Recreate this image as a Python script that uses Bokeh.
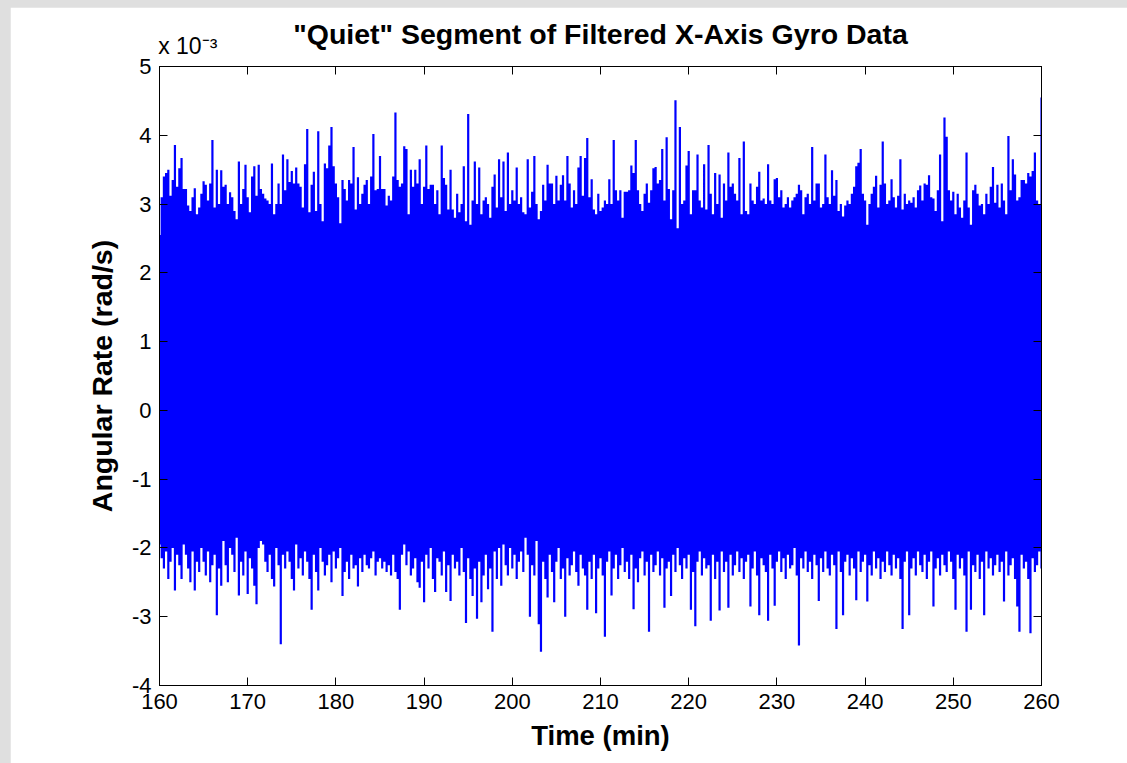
from bokeh.plotting import figure
from bokeh.models import LinearAxis, FixedTicker, Range1d, ColumnDataSource, CustomJSTickFormatter
from bokeh.layouts import column
from bokeh.embed import file_html
from bokeh.resources import INLINE

# ---------------- data (angular rate in units of 1e-3 rad/s) ----------------
T_START = 160.0
T_STEP = 0.25   # minutes between envelope samples

upper_env = [
    2.55, 3.10, 3.40, 3.45, 3.50, 3.12, 3.35, 3.86, 3.25, 3.52, 3.67, 3.22, 3.22, 2.98, 2.90, 3.10, 3.23, 2.85, 2.95, 3.15,
    3.33, 3.28, 3.05, 3.30, 3.93, 2.95, 3.50, 3.00, 3.49, 3.25, 3.28, 3.00, 3.17, 3.10, 2.90, 2.78, 3.62, 3.00, 3.22, 3.57,
    3.10, 2.88, 3.40, 3.55, 3.12, 3.57, 3.22, 3.15, 3.08, 3.05, 3.00, 3.59, 2.85, 3.00, 3.30, 3.00, 3.72, 3.20, 3.65, 3.32,
    3.48, 3.30, 3.53, 3.30, 3.25, 2.95, 3.58, 4.09, 2.88, 3.28, 3.47, 2.90, 4.06, 3.00, 2.75, 3.59, 3.52, 3.85, 4.12, 3.55,
    3.30, 3.10, 2.72, 3.35, 3.22, 3.05, 3.35, 3.30, 3.83, 2.92, 3.39, 3.00, 3.15, 3.28, 3.35, 3.00, 3.40, 4.02, 3.20, 3.22,
    3.70, 3.22, 3.22, 2.98, 3.12, 3.05, 3.40, 4.33, 3.35, 3.25, 3.30, 3.84, 3.80, 2.85, 3.50, 3.25, 3.50, 3.30, 3.65, 3.00,
    3.25, 3.85, 3.22, 3.28, 3.28, 3.00, 3.20, 2.85, 3.85, 3.38, 3.28, 2.92, 3.50, 2.92, 2.80, 3.15, 2.88, 3.00, 3.55, 2.75,
    4.31, 2.70, 3.05, 3.62, 3.00, 3.53, 2.85, 3.05, 3.10, 3.00, 2.80, 3.25, 3.43, 2.95, 3.65, 3.10, 3.62, 2.90, 3.75, 3.00,
    3.20, 3.05, 3.53, 3.00, 3.10, 2.88, 2.85, 3.65, 2.95, 3.18, 3.70, 3.00, 2.78, 2.90, 3.28, 3.05, 3.57, 3.30, 3.30, 3.00,
    3.41, 3.05, 3.28, 3.42, 3.05, 3.70, 3.30, 2.95, 3.20, 3.00, 3.53, 3.70, 3.12, 3.67, 3.96, 3.10, 3.36, 2.92, 2.85, 3.15,
    2.90, 2.95, 3.05, 3.00, 3.36, 3.00, 3.93, 3.20, 3.05, 3.20, 2.80, 3.18, 3.18, 3.20, 3.56, 3.45, 3.93, 3.20, 3.00, 2.90,
    3.15, 3.30, 3.02, 3.20, 3.52, 3.54, 3.30, 3.35, 3.80, 3.05, 3.97, 3.22, 2.78, 3.20, 4.51, 2.65, 4.12, 3.00, 3.05, 3.56,
    3.77, 2.85, 3.20, 3.20, 3.72, 3.05, 2.95, 3.58, 2.92, 3.86, 3.15, 2.85, 3.45, 3.00, 3.43, 2.80, 3.30, 3.05, 3.75, 3.25,
    3.30, 3.15, 3.05, 3.67, 2.85, 3.91, 2.90, 2.85, 3.30, 3.05, 3.00, 3.25, 3.47, 3.05, 3.08, 3.00, 3.58, 3.05, 3.00, 3.36,
    3.38, 3.10, 3.20, 2.95, 3.00, 3.10, 2.95, 3.05, 3.10, 3.15, 3.28, 3.20, 2.85, 3.10, 3.15, 3.00, 3.83, 3.05, 3.30, 3.30,
    2.95, 3.00, 3.72, 3.10, 3.00, 3.49, 3.12, 3.35, 2.90, 3.00, 2.82, 2.98, 3.05, 3.00, 3.15, 3.25, 3.55, 3.60, 3.80, 3.15,
    3.05, 2.70, 3.00, 3.15, 3.25, 3.41, 2.95, 3.28, 3.91, 3.30, 3.00, 3.05, 3.36, 3.10, 2.95, 3.12, 3.65, 2.92, 3.15, 3.00,
    3.05, 3.02, 3.10, 2.95, 3.20, 3.27, 3.05, 3.30, 3.28, 3.42, 3.10, 3.08, 2.90, 3.20, 3.72, 2.75, 4.26, 3.98, 3.20, 3.05,
    3.18, 2.85, 3.15, 2.95, 2.80, 3.05, 3.75, 2.95, 2.70, 3.20, 3.28, 3.15, 2.98, 3.00, 2.85, 3.15, 3.00, 3.25, 3.54, 3.02,
    3.28, 2.95, 3.30, 3.05, 2.85, 3.99, 3.20, 3.65, 3.43, 3.05, 3.10, 3.35, 3.35, 3.30, 3.45, 3.40, 3.48, 3.75, 3.05, 3.00,
    4.55,
]

lower_env = [
    -1.95, -2.15, -2.30, -2.05, -2.45, -2.20, -2.00, -2.62, -2.10, -2.25, -2.45, -1.95, -2.10, -2.30, -2.50, -2.05, -2.62, -2.20, -2.35, -2.00,
    -2.20, -2.40, -2.05, -2.50, -2.25, -2.10, -2.98, -2.30, -2.55, -1.90, -2.25, -2.50, -2.00, -2.10, -2.35, -1.85, -2.69, -2.20, -2.40, -2.05,
    -2.67, -2.15, -2.30, -2.55, -2.82, -2.00, -1.90, -1.95, -2.20, -2.35, -2.10, -2.45, -2.56, -2.00, -2.25, -3.40, -2.10, -2.30, -2.05, -2.20,
    -2.45, -2.62, -1.95, -2.30, -2.15, -2.40, -2.05, -2.20, -2.45, -2.90, -2.10, -2.35, -2.62, -2.00, -2.20, -2.40, -2.25, -2.10, -2.50, -2.05,
    -2.30, -2.15, -2.00, -2.70, -2.35, -2.20, -2.45, -2.10, -2.30, -2.25, -2.56, -2.15, -2.35, -2.10, -2.25, -2.30, -2.15, -2.05, -2.40, -2.20,
    -2.15, -2.30, -2.20, -2.35, -2.25, -2.40, -2.10, -2.35, -2.45, -2.90, -2.10, -1.95, -2.25, -2.05, -2.40, -2.30, -2.15, -2.50, -2.58, -2.20,
    -2.79, -2.10, -2.30, -2.00, -2.45, -2.64, -2.15, -2.20, -2.40, -2.05, -2.64, -2.25, -2.77, -2.10, -2.30, -2.20, -2.40, -2.00, -2.35, -3.09,
    -2.15, -2.45, -2.70, -2.30, -3.03, -2.20, -2.79, -2.40, -2.10, -2.60, -2.30, -3.22, -2.05, -2.45, -2.00, -2.55, -1.95, -2.25, -2.40, -2.00,
    -2.30, -2.10, -2.45, -2.20, -2.05, -2.35, -1.85, -2.10, -3.00, -2.25, -2.40, -1.90, -3.11, -3.51, -2.20, -2.45, -2.72, -2.10, -2.35, -2.79,
    -2.20, -2.00, -2.45, -2.30, -3.00, -2.15, -2.40, -2.25, -2.05, -2.35, -2.55, -2.10, -2.30, -2.40, -2.90, -2.20, -2.45, -2.10, -2.95, -2.30,
    -2.15, -2.40, -3.29, -2.20, -2.05, -2.69, -2.30, -2.10, -2.45, -2.25, -2.00, -2.35, -2.20, -2.45, -2.10, -2.89, -2.30, -2.50, -2.15, -2.05,
    -2.40, -2.20, -3.22, -2.10, -2.35, -2.25, -2.05, -2.40, -2.15, -2.87, -2.30, -2.20, -2.70, -2.10, -2.35, -2.00, -2.25, -2.45, -2.15, -2.30,
    -2.10, -2.90, -2.35, -3.14, -2.20, -2.05, -2.40, -2.15, -2.30, -2.25, -3.06, -2.10, -2.45, -2.20, -2.91, -2.05, -2.35, -2.20, -2.87, -2.10,
    -2.40, -2.25, -2.05, -2.35, -2.15, -2.45, -2.20, -2.10, -2.85, -2.30, -2.05, -2.40, -2.98, -2.15, -2.25, -2.35, -3.06, -2.10, -2.30, -2.84,
    -2.20, -2.05, -2.35, -2.15, -2.45, -2.10, -2.30, -2.25, -2.00, -2.40, -3.42, -2.15, -2.30, -2.05, -2.35, -2.20, -2.45, -2.10, -2.25, -2.77,
    -2.15, -2.35, -2.05, -2.30, -2.40, -2.10, -2.25, -3.18, -2.05, -2.35, -2.98, -2.20, -2.10, -2.40, -2.15, -2.30, -2.76, -2.05, -2.35, -2.20,
    -2.10, -2.78, -2.25, -2.40, -2.05, -2.30, -2.15, -2.45, -2.20, -2.35, -2.05, -2.25, -2.40, -2.10, -2.30, -2.15, -2.45, -3.18, -2.20, -2.05,
    -2.98, -2.30, -2.15, -2.40, -2.05, -2.25, -2.35, -2.10, -2.45, -2.20, -2.05, -2.85, -2.30, -2.15, -2.40, -2.10, -2.25, -2.35, -2.05, -2.20,
    -2.45, -2.90, -2.10, -2.30, -2.15, -2.40, -3.22, -2.05, -2.90, -2.25, -2.35, -2.10, -2.45, -2.20, -2.98, -2.05, -2.30, -2.15, -2.40, -2.25,
    -2.10, -2.35, -2.20, -2.78, -2.05, -2.40, -2.25, -2.15, -2.45, -2.85, -3.22, -2.10, -2.30, -2.20, -2.45, -3.24, -2.15, -2.35, -2.25, -2.05,
    -2.30,
]

x_ticks = [160, 170, 180, 190, 200, 210, 220, 230, 240, 250, 260]
y_ticks = [-4, -3, -2, -1, 0, 1, 2, 3, 4, 5]

title_text = '"Quiet" Segment of Filtered X-Axis Gyro Data'
x_label = "Time (min)"
y_label = "Angular Rate (rad/s)"
exp_text = "x 10\u207b\u00b3"      # axis multiplier  x 10^-3

# ---------------- figure ----------------
FONT = "Liberation Sans"
BLUE = "#0000ff"
EXP_POS = 163.2   # where the multiplier text is centred along the top edge

time_min = [T_START + T_STEP * i for i in range(len(upper_env))]
src = ColumnDataSource(dict(t=time_min, hi=upper_env, lo=lower_env))

p = figure(width=1117, height=756, output_backend="svg", toolbar_location=None, title=None,
           x_range=Range1d(160, 260), y_range=Range1d(-4, 5),
           min_border_left=149, min_border_right=86, min_border_top=59, min_border_bottom=78,
           background_fill_color="white", border_fill_color="white")
p.margin = (7, 0, 0, 10)
p.grid.visible = False
p.outline_line_color = "black"
p.outline_line_width = 1

p.varea_step(x="t", y1="lo", y2="hi", step_mode="center", source=src,
             fill_color=BLUE, fill_alpha=1.0)

plain_fmt = CustomJSTickFormatter(code="return tick.toFixed(0);")

def style_axis(ax, labels=True):
    ax.axis_line_color = "black"
    ax.axis_line_width = 1
    ax.major_tick_in = 8
    ax.major_tick_out = 0
    ax.minor_tick_in = 0
    ax.minor_tick_out = 0
    ax.major_tick_line_color = "black"
    ax.major_label_text_font = FONT
    ax.major_label_text_color = "black"
    if labels:
        ax.major_label_text_font_size = "22px"
        ax.formatter = plain_fmt
    else:
        ax.major_label_text_font_size = "0px"
        ax.major_label_text_alpha = 0
        ax.major_label_standoff = 0

xa = p.xaxis[0]
xa.ticker = FixedTicker(ticks=x_ticks)
style_axis(xa)
xa.major_label_standoff = 8
xa.axis_label = x_label
xa.axis_label_text_font = FONT
xa.axis_label_text_font_size = "27.5px"
xa.axis_label_text_font_style = "bold"
xa.axis_label_text_color = "black"
xa.axis_label_standoff = 8

ya = p.yaxis[0]
ya.ticker = FixedTicker(ticks=y_ticks)
style_axis(ya)
ya.major_label_standoff = 8
ya.axis_label = y_label
ya.axis_label_text_font = FONT
ya.axis_label_text_font_size = "28.5px"
ya.axis_label_text_font_style = "bold"
ya.axis_label_text_color = "black"
ya.axis_label_standoff = 11

# top edge: tick marks only
top_ax = LinearAxis(ticker=FixedTicker(ticks=x_ticks))
style_axis(top_ax, labels=False)
p.add_layout(top_ax, "above")

# multiplier text and title carried by an extra (invisible-line) top axis
exp_ax = LinearAxis(ticker=FixedTicker(ticks=[EXP_POS]),
                    formatter=CustomJSTickFormatter(args=dict(lbl=exp_text), code="return lbl;"))
exp_ax.axis_line_color = None
exp_ax.major_tick_line_color = None
exp_ax.minor_tick_line_color = None
exp_ax.major_tick_in = 0
exp_ax.major_tick_out = 0
exp_ax.major_label_standoff = 8
exp_ax.major_label_text_font = FONT
exp_ax.major_label_text_font_size = "23px"
exp_ax.major_label_text_color = "black"
exp_ax.axis_label = title_text
exp_ax.axis_label_text_font = FONT
exp_ax.axis_label_text_font_size = "28.5px"
exp_ax.axis_label_text_font_style = "bold"
exp_ax.axis_label_text_color = "black"
exp_ax.axis_label_standoff = -20
p.add_layout(exp_ax, "above")

right_ax = LinearAxis(ticker=FixedTicker(ticks=y_ticks))
style_axis(right_ax, labels=False)
p.add_layout(right_ax, "right")

root = column(p, width=1127, height=763, styles={"background-color": "#dfdfdf"})
open("out.html", "w").write(file_html(root, INLINE))
